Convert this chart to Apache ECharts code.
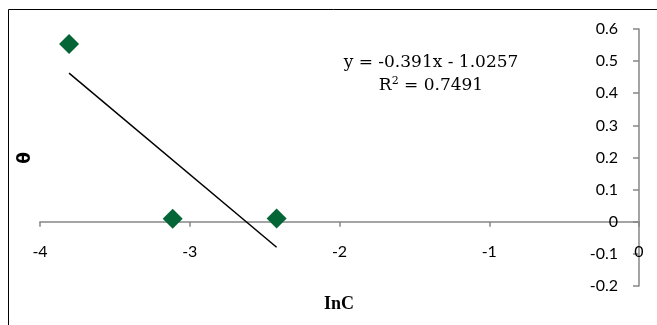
<!DOCTYPE html>
<html>
<head>
<meta charset="utf-8">
<style>
  html, body { margin: 0; padding: 0; background: #fff; }
  #chart { width: 657px; height: 325px; }
</style>
<script src="https://cdn.jsdelivr.net/npm/echarts@6/dist/echarts.min.js"></script>
</head>
<body>
<div id="chart"></div>
<script>
// Measured points: ln of concentration vs. surface coverage
const lnC = [-3.806, -3.114, -2.42];
const theta = [0.553, 0.009, 0.01];

// Linear fit reported for the points
const slope = -0.391;
const intercept = -1.0257;
const rSquared = 0.7491;

// Axis ranges
const xRange = [-4, 0];
const yRange = [-0.2, 0.6];

const pointColor = '#046636';
const axisColor = '#868686';
const labelFont = 'Lato, "Open Sans", sans-serif';

// Trendline spans the measured x range
const xLo = Math.min(...lnC), xHi = Math.max(...lnC);
const fitLine = [[xLo, slope * xLo + intercept], [xHi, slope * xHi + intercept]];

const fmt = v => (v < 0 ? '- ' + Math.abs(v) : '+ ' + v);
const eqText = 'y = ' + slope + 'x ' + fmt(intercept);

const chart = echarts.init(document.getElementById('chart'), null, { renderer: 'canvas' });
chart.setOption({
  animation: false,
  backgroundColor: '#fff',
  grid: { left: 40, right: 18, top: 29, bottom: 39 },
  xAxis: {
    type: 'value',
    min: xRange[0], max: xRange[1], interval: 1,
    axisLine: { show: true, onZero: false, lineStyle: { color: axisColor, width: 1.5 } },
    axisTick: { show: true, length: 5, lineStyle: { color: axisColor, width: 1.5 } },
    axisLabel: { margin: 22, color: '#000', fontSize: 16, fontFamily: labelFont },
    splitLine: { show: false }
  },
  yAxis: {
    type: 'value',
    position: 'right',
    min: yRange[0], max: yRange[1], interval: 0.1,
    axisLine: { show: true, onZero: false, lineStyle: { color: axisColor, width: 1.5 } },
    axisTick: { show: true, inside: true, length: 6, lineStyle: { color: axisColor, width: 1.5 } },
    axisLabel: { inside: true, margin: 21, color: '#000', fontSize: 16, fontFamily: labelFont },
    splitLine: { show: false }
  },
  series: [
    {
      type: 'line',
      data: fitLine,
      symbol: 'none',
      lineStyle: { color: '#000', width: 1.5 },
      z: 2
    },
    {
      type: 'scatter',
      data: lnC.map((x, i) => [x, theta[i]]),
      symbol: 'diamond',
      symbolSize: 20,
      itemStyle: { color: pointColor, opacity: 1 },
      z: 3
    }
  ],
  graphic: [
    {
      type: 'rect',
      shape: { x: 8.5, y: 9.5, width: 800, height: 500 },
      style: { fill: null, stroke: '#000', lineWidth: 1 },
      silent: true
    },
    {
      type: 'text',
      x: 431, y: 63,
      style: {
        text: eqText,
        font: '17px "DejaVu Serif", serif',
        fill: '#000',
        align: 'center',
        verticalAlign: 'middle'
      }
    },
    {
      type: 'text',
      x: 431, y: 86,
      style: {
        text: '{r|R}{sup|2}{r| = ' + rSquared + '}',
        align: 'center',
        verticalAlign: 'middle',
        rich: {
          r: { font: '17px "DejaVu Serif", serif', fill: '#000', lineHeight: 20 },
          sup: { font: '11px "DejaVu Serif", serif', fill: '#000', lineHeight: 20, verticalAlign: 'top', padding: [0, 0, 10, 0] }
        }
      }
    },
    {
      type: 'text',
      x: 339, y: 304,
      style: {
        text: 'InC',
        font: 'bold 18px "Liberation Serif", serif',
        fill: '#000',
        align: 'center',
        verticalAlign: 'middle'
      }
    },
    {
      type: 'text',
      x: 26, y: 158,
      rotation: Math.PI / 2,
      style: {
        text: 'θ',
        font: 'bold 17px "DejaVu Sans", sans-serif',
        fill: '#000',
        align: 'center',
        verticalAlign: 'middle'
      }
    }
  ]
});

// Lift the x axis (line, ticks and labels) up to the y = 0 level
const zeroY = chart.convertToPixel({ yAxisIndex: 0 }, 0);
const bottomY = chart.convertToPixel({ yAxisIndex: 0 }, yRange[0]);
chart.setOption({ xAxis: { offset: -(bottomY - zeroY) } });
</script>
</body>
</html>
